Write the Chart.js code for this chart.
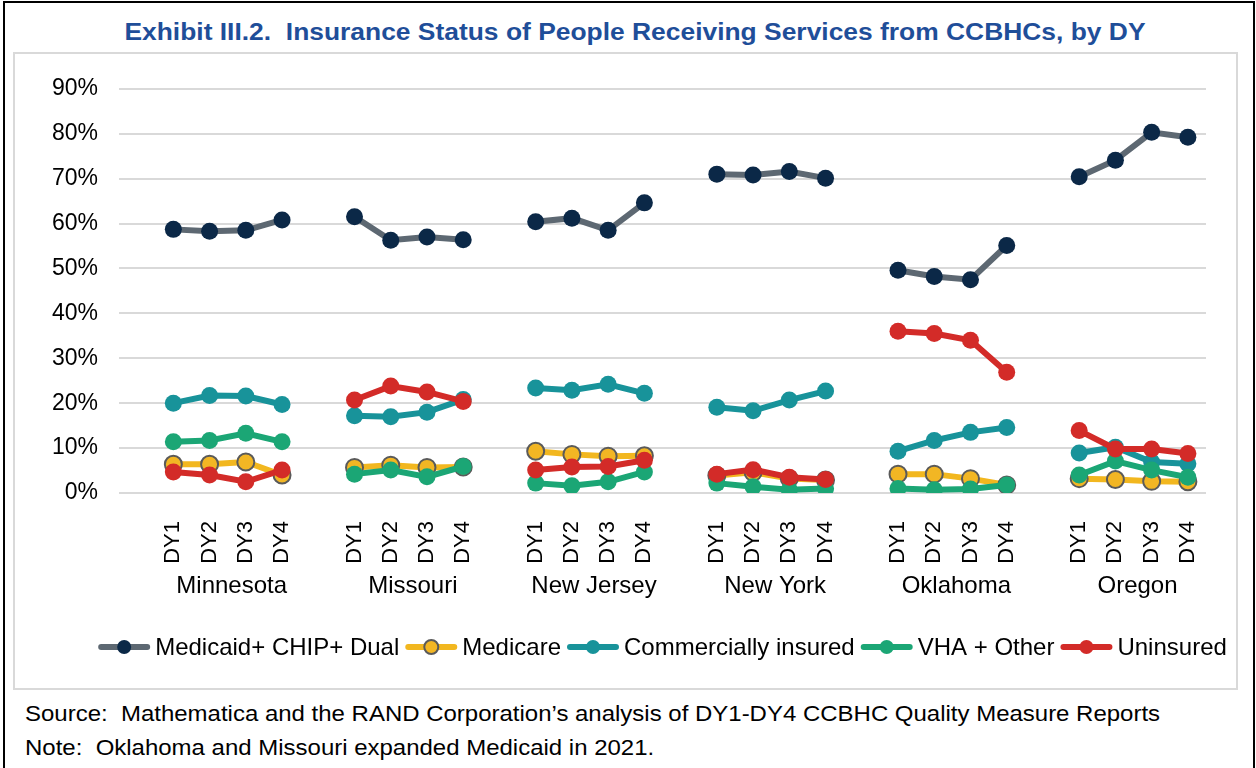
<!DOCTYPE html>
<html>
<head>
<meta charset="utf-8">
<script src="https://cdn.jsdelivr.net/npm/chart.js@4.4.0/dist/chart.umd.min.js"></script>
<style>
  html, body { margin: 0; padding: 0; overflow: hidden; background: #fff; }
  body { font-family: "Liberation Sans", Arial, sans-serif; color: #000; }
  #frame { position: absolute; left: 3px; top: 1px; width: 1248px; height: 800px; border: 2px solid #000; border-bottom: none; }
  #title { position: absolute; left: 0; top: 18px; width: 1270px; text-align: center; font-weight: bold; font-size: 24px; line-height: 28px; color: #1F4E99; white-space: pre; transform: scaleX(1.1); transform-origin: 635px 0; }
  #box { position: absolute; left: 13px; top: 52px; width: 1221px; height: 634px; border: 2px solid #D9D9D9; }
  .foot { position: absolute; left: 25px; font-size: 22px; line-height: 26px; white-space: pre; transform: scaleX(1.09); transform-origin: 0 0; }
</style>
</head>
<body>
<div id="frame"></div>
<div id="title">Exhibit III.2.  Insurance Status of People Receiving Services from CCBHCs, by DY</div>
<div id="box"><canvas id="grafico"></canvas></div>
<div class="foot" style="top:701px">Source:  Mathematica and the RAND Corporation’s analysis of DY1-DY4 CCBHC Quality Measure Reports</div>
<div class="foot" style="top:735px">Note:  Oklahoma and Missouri expanded Medicaid in 2021.</div>

<script>
  // Dados: 6 estados x 4 anos (DY1-DY4), em %
  const states = ['Minnesota', 'Missouri', 'New Jersey', 'New York', 'Oklahoma', 'Oregon'];
  const years = ['DY1', 'DY2', 'DY3', 'DY4'];
  const yTicks = [0, 10, 20, 30, 40, 50, 60, 70, 80, 90];

  const medicaid   = [58.7, 58.3, 58.5, 60.8,  61.5, 56.3, 57.0, 56.4,  60.4, 61.2, 58.5, 64.6,  71.0, 70.8, 71.6, 70.1,  49.6, 48.2, 47.5, 55.1,  70.4, 74.1, 80.3, 79.2];
  const medicare   = [6.4, 6.4, 6.9, 4.0,  5.7, 6.2, 5.7, 5.8,  9.3, 8.6, 8.2, 8.3,  3.9, 4.6, 3.2, 2.9,  4.2, 4.2, 3.2, 1.8,  3.2, 3.0, 2.6, 2.5];
  const commercial = [20.0, 21.7, 21.6, 19.7,  17.2, 17.0, 18.0, 20.8,  23.4, 22.9, 24.2, 22.2,  19.1, 18.3, 20.7, 22.7,  9.3, 11.7, 13.5, 14.6,  8.9, 10.2, 6.9, 6.5];
  const vhaOther   = [11.4, 11.7, 13.3, 11.4,  4.2, 5.1, 3.6, 5.9,  2.2, 1.6, 2.5, 4.7,  2.2, 1.4, 0.7, 1.0,  1.0, 0.7, 0.9, 1.8,  4.0, 7.1, 5.1, 3.5];
  const uninsured  = [4.7, 4.0, 2.5, 5.1,  20.7, 23.8, 22.5, 20.4,  5.1, 5.8, 5.9, 7.3,  4.2, 5.2, 3.5, 3.0,  36.0, 35.5, 34.0, 26.9,  13.9, 9.8, 9.8, 8.8];

  const FONT = '"Liberation Sans", Arial, sans-serif';

  // uma posicao vazia antes de cada estado
  const xLabels = [];
  states.forEach(() => { xLabels.push(''); years.forEach(y => xLabels.push(y)); });
  function spread(vals) {
    const out = [];
    states.forEach((s, i) => { out.push(null); out.push(...vals.slice(i * 4, i * 4 + 4)); });
    return out;
  }

  function serie(label, vals, line, fill, edge, edgeW, order) {
    return {
      label: label,
      data: spread(vals),
      borderColor: line,
      backgroundColor: fill,
      borderWidth: 6,
      pointRadius: 8.5,
      pointHoverRadius: 8.5,
      pointBackgroundColor: fill,
      pointBorderColor: edge,
      pointBorderWidth: edgeW,
      spanGaps: false,
      tension: 0,
      order: order
    };
  }

  // nomes dos estados embaixo dos DY
  const stateNames = {
    id: 'stateNames',
    afterDraw(chart) {
      const x = chart.scales.x, ctx = chart.ctx;
      ctx.save();
      ctx.font = '24px ' + FONT;
      ctx.fillStyle = '#000';
      ctx.textAlign = 'center';
      ctx.textBaseline = 'middle';
      states.forEach((s, i) => {
        const first = i * 5 + 1;
        const cx = (x.getPixelForValue(first) + x.getPixelForValue(first + 3)) / 2 + 4;
        ctx.fillText(s, cx, chart.chartArea.bottom + 93);
      });
      ctx.restore();
    }
  };

  // legenda estilo Excel: linha com marcador
  const legendRow = {
    id: 'legendRow',
    afterDraw(chart) {
      const ctx = chart.ctx;
      const lineLen = 52, gap = 5, itemGap = 6;
      ctx.save();
      ctx.font = '24px ' + FONT;
      const items = chart.data.datasets.map(ds => ({ ds: ds, w: lineLen + gap + ctx.measureText(ds.label).width }));
      const total = items.reduce((s, it) => s + it.w, 0) + itemGap * (items.length - 1);
      let x = (chart.chartArea.left + chart.chartArea.right) / 2 - total / 2;
      const y = chart.chartArea.bottom + 154;
      items.forEach(it => {
        const ds = it.ds;
        ctx.lineCap = 'round';
        ctx.lineWidth = 6;
        ctx.strokeStyle = ds.borderColor;
        ctx.beginPath(); ctx.moveTo(x + 3, y); ctx.lineTo(x + lineLen - 3, y); ctx.stroke();
        ctx.beginPath(); ctx.arc(x + lineLen / 2, y, 7, 0, Math.PI * 2);
        ctx.fillStyle = ds.pointBackgroundColor; ctx.fill();
        if (ds.pointBorderWidth) { ctx.lineWidth = ds.pointBorderWidth; ctx.strokeStyle = ds.pointBorderColor; ctx.stroke(); }
        ctx.fillStyle = '#000';
        ctx.textAlign = 'left';
        ctx.textBaseline = 'middle';
        ctx.fillText(ds.label, x + lineLen + gap, y + 1);
        x += it.w + itemGap;
      });
      ctx.restore();
    }
  };

  const ctx = document.getElementById('grafico').getContext('2d');
  const grafico = new Chart(ctx, {
    type: 'line',
    data: {
      labels: xLabels,
      datasets: [
        serie('Medicaid+ CHIP+ Dual', medicaid, '#5D6872', '#0B2847', '#0B2847', 0, 5),
        serie('Medicare', medicare, '#F2B71F', '#F2B624', '#5A5A5A', 2, 4),
        serie('Commercially insured', commercial, '#18939A', '#18939A', '#18939A', 0, 3),
        serie('VHA + Other', vhaOther, '#1BA675', '#1BA675', '#1BA675', 0, 2),
        serie('Uninsured', uninsured, '#D32B28', '#D32B28', '#D32B28', 0, 1)
      ]
    },
    options: {
      responsive: true,
      maintainAspectRatio: false,
      animation: false,
      layout: { padding: { left: 35, right: 30, top: 30, bottom: 63 } },
      plugins: {
        legend: { display: false },
        tooltip: { enabled: false }
      },
      scales: {
        x: {
          offset: true,
          grid: { display: false },
          border: { display: false },
          afterFit: (scale) => { scale.height = 132; },
          ticks: {
            autoSkip: false,
            minRotation: 90,
            maxRotation: 90,
            padding: 20,
            color: '#000',
            font: { size: 22, family: FONT }
          }
        },
        y: {
          min: 0,
          max: 90,
          afterFit: (scale) => { scale.width = 69; },
          afterBuildTicks: (scale) => { scale.ticks = yTicks.map(v => ({ value: v })); },
          border: { display: false },
          grid: { color: '#D9D9D9', lineWidth: 2, drawTicks: false },
          ticks: {
            padding: 21,
            color: '#000',
            font: { size: 23, family: FONT },
            callback: (v) => v + '%'
          }
        }
      }
    },
    plugins: [stateNames, legendRow]
  });
</script>
</body>
</html>
